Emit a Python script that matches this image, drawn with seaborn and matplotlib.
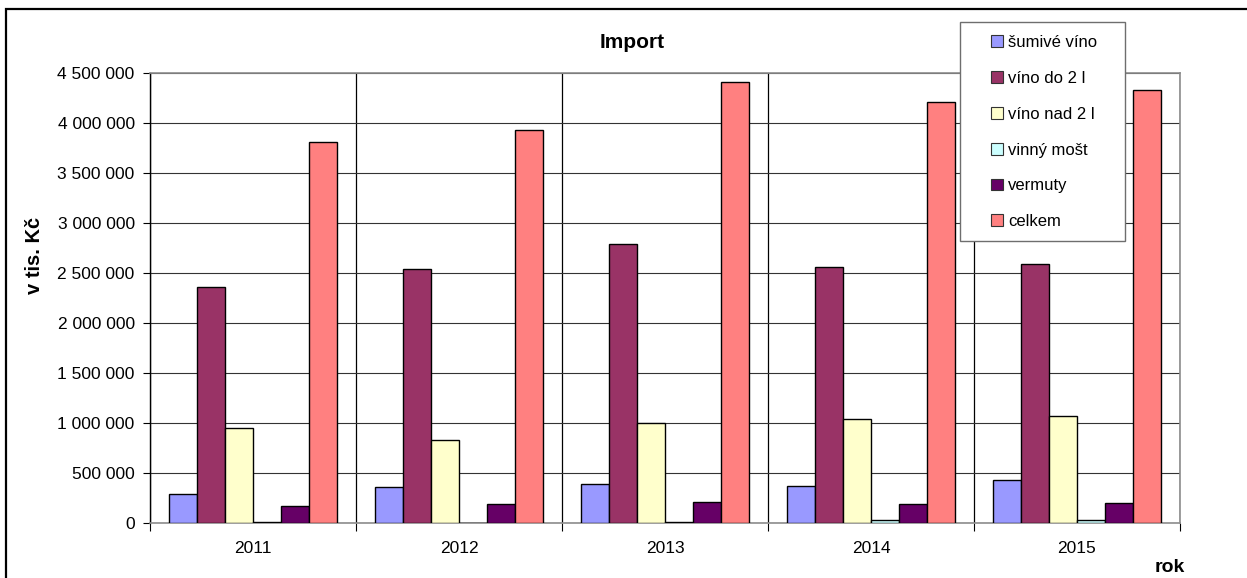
import matplotlib
matplotlib.use("Agg")
import matplotlib.pyplot as plt
from matplotlib.patches import Rectangle
from matplotlib.ticker import FuncFormatter, FixedLocator
import numpy as np
import pandas as pd
import seaborn as sns

# Import vína podle druhu (v tis. Kč)
roky = ["2011", "2012", "2013", "2014", "2015"]
druhy = ["šumivé víno", "víno do 2 l", "víno nad 2 l", "vinný mošt", "vermuty", "celkem"]
sumive_vino = [293000, 359000, 389000, 372000, 429000]
vino_do_2l = [2365000, 2545000, 2794000, 2565000, 2595000]
vino_nad_2l = [951000, 828000, 1005000, 1045000, 1075000]
vinny_most = [13000, 3000, 13000, 27000, 27000]
vermuty = [170000, 186000, 213000, 186000, 200000]
celkem = [3812000, 3932000, 4411000, 4212000, 4331000]
barvy = ["#9999FF", "#993366", "#FFFFCC", "#CCFFFF", "#660066", "#FF8080"]

hodnoty = [sumive_vino, vino_do_2l, vino_nad_2l, vinny_most, vermuty, celkem]
df = pd.DataFrame(
    [(r, d, v[i]) for d, v in zip(druhy, hodnoty) for i, r in enumerate(roky)],
    columns=["rok", "druh", "hodnota"],
)

sns.set_theme(style="white")
plt.rcParams["font.family"] = ["Liberation Sans", "DejaVu Sans"]

W, H = 1247, 578
fig = plt.figure(figsize=(W / 100, H / 100), dpi=100)
ax = fig.add_axes([150 / W, (H - 523) / H, (1180 - 150) / W, (523 - 73) / H])

sns.barplot(
    data=df, x="rok", y="hodnota", hue="druh", hue_order=druhy, order=roky,
    palette=barvy, saturation=1, width=168 / 206, gap=0,
    edgecolor="black", linewidth=1.0, legend=False, ax=ax, zorder=3,
)

ax.set_xlim(-0.5, len(roky) - 0.5)
ax.set_ylim(0, 4500000)
ax.set_yticks(np.arange(0, 4500001, 500000))
ax.yaxis.set_major_formatter(
    FuncFormatter(lambda v, _: f"{int(v):,}".replace(",", " "))
)
ax.xaxis.set_minor_locator(FixedLocator(np.arange(-0.5, len(roky), 1.0)))

ax.tick_params(axis="y", which="major", direction="out", length=5, width=0.8,
               color="black", labelsize=12.5, pad=6, left=True)
ax.tick_params(axis="x", which="major", length=0, labelsize=12.5, pad=13)
ax.tick_params(axis="x", which="minor", direction="out", length=6, width=0.8,
               color="black", bottom=True)

ax.grid(axis="y", which="major", color="#333333", linewidth=0.8, zorder=0)
ax.grid(axis="x", which="minor", color="black", linewidth=0.9, zorder=0)
ax.grid(axis="x", which="major", visible=False)
ax.set_axisbelow(True)

for side in ["top", "right", "bottom"]:
    ax.spines[side].set_color("#8c8c8c")
    ax.spines[side].set_linewidth(1.2)
ax.spines["left"].set_color("black")
ax.spines["left"].set_linewidth(1.0)

ax.set_xlabel("")
ax.set_ylabel("")
for lbl in ax.get_xticklabels() + ax.get_yticklabels():
    lbl.set_color("black")

fig.text(632 / W, 1 - 42 / H, "Import", ha="center", va="center",
         fontsize=15, fontweight="bold", color="black")
fig.text(35 / W, 1 - 255 / H, "v tis. Kč", ha="center", va="center",
         rotation=90, fontsize=14.5, fontweight="bold", color="black")
fig.text(1170 / W, 1 - 568 / H, "rok", ha="center", va="center",
         fontsize=14, fontweight="bold", color="black")

# Legend box
fig.patches.append(Rectangle((960 / W, 1 - 241 / H), 165 / W, 219 / H,
                             transform=fig.transFigure, facecolor="white",
                             edgecolor="#6e6e6e", linewidth=1.0, zorder=5))
handles = [Rectangle((0, 0), 1, 1, facecolor=c, edgecolor="#333333", linewidth=0.8)
           for c in barvy]
leg = fig.legend(handles, druhy, loc="upper left",
                 bbox_to_anchor=(991 / W, 1 - 35 / H), frameon=False,
                 fontsize=12, labelspacing=1.25, handlelength=0.72,
                 handleheight=0.72, handletextpad=0.3, borderpad=0,
                 borderaxespad=0)
leg.set_zorder(6)
for t in leg.get_texts():
    t.set_color("black")

# Outer chart border
fig.patches.append(Rectangle((6 / W, -0.05), 1.1, 1 - 9 / H + 0.05,
                             transform=fig.transFigure, fill=False,
                             edgecolor="black", linewidth=1.6, zorder=10))

fig.savefig("out.png", dpi=100)
